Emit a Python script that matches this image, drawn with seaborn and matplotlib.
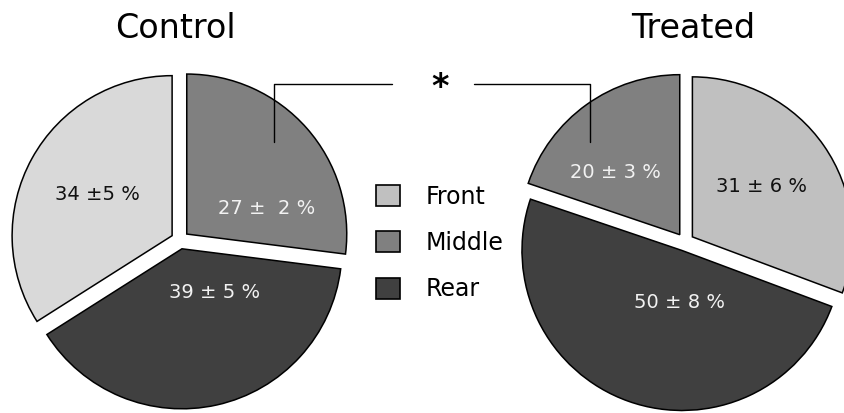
import numpy as np
import matplotlib
matplotlib.use("Agg")
import matplotlib.pyplot as plt
import seaborn as sns
from matplotlib.patches import Patch

sns.set_style("white")
plt.rcParams['font.family'] = ['DejaVu Sans']
plt.rcParams['text.color'] = 'black'

regions = ["Front", "Middle", "Rear"]
control_vals = [34, 27, 39]
treated_vals = [31, 20, 50]
control_txt = ["34 \u00b15 %", "27 \u00b1  2 %", "39 \u00b1 5 %"]
treated_txt = ["31 \u00b1 6 %", "20 \u00b1 3 %", "50 \u00b1 8 %"]

legend_cols = ["#c0c0c0", "#808080", "#404040"]
control_cols = ["#d9d9d9", "#808080", "#404040"]
text_cols = ["#111111", "#f2f2f2", "#f2f2f2"]

fig = plt.figure(figsize=(8.44, 4.13), dpi=100)
ax = fig.add_axes([0, 0, 1, 1])

R = 160
EXP = 9  # explode distance, in data units (pixels)
wp = dict(edgecolor="black", linewidth=1.1)

# control: counter-clockwise from top -> Front, Rear, Middle
order_c = [0, 2, 1]
ax.pie([control_vals[i] for i in order_c], colors=[control_cols[i] for i in order_c],
       startangle=90, counterclock=True, explode=[EXP] * 3, radius=R,
       center=(180, 173), wedgeprops=wp, frame=True)

# treated: counter-clockwise from top -> Middle, Rear, Front
order_t = [1, 2, 0]
ax.pie([treated_vals[i] for i in order_t], colors=[legend_cols[i] for i in order_t],
       startangle=90, counterclock=True, explode=[EXP] * 3, radius=R,
       center=(685, 171), wedgeprops=wp, frame=True)

ax.set_xlim(0, 844)
ax.set_ylim(0, 413)
ax.set_aspect("auto")
ax.axis("off")

lab_c = [(97, 218), (267, 204), (215, 121)]
lab_t = [(762, 227), (615, 240), (680, 111)]
for i in range(3):
    ax.text(*lab_c[i], control_txt[i], ha="center", va="center", fontsize=14, color=text_cols[i])
    ax.text(*lab_t[i], treated_txt[i], ha="center", va="center", fontsize=14, color=text_cols[i])

ax.text(175, 384, "Control", ha="center", va="center", fontsize=24)
ax.text(693, 384, "Treated", ha="center", va="center", fontsize=24)

# significance bracket
ax.plot([274, 274, 392], [271, 329, 329], color="black", lw=1)
ax.plot([474, 590, 590], [329, 329, 271], color="black", lw=1)
ax.text(440, 326, "*", ha="center", va="center", fontsize=24, fontweight="bold")

handles = [Patch(facecolor=c, edgecolor="black", linewidth=1.2) for c in legend_cols]
leg = ax.legend(handles, regions, loc="center left", bbox_to_anchor=(355 / 844, 170 / 413),
                frameon=False, fontsize=17, handlelength=1, handleheight=1,
                labelspacing=0.95, handletextpad=1.1)
for t in leg.get_texts():
    t.set_color("black")

fig.savefig("out.png", dpi=100)
